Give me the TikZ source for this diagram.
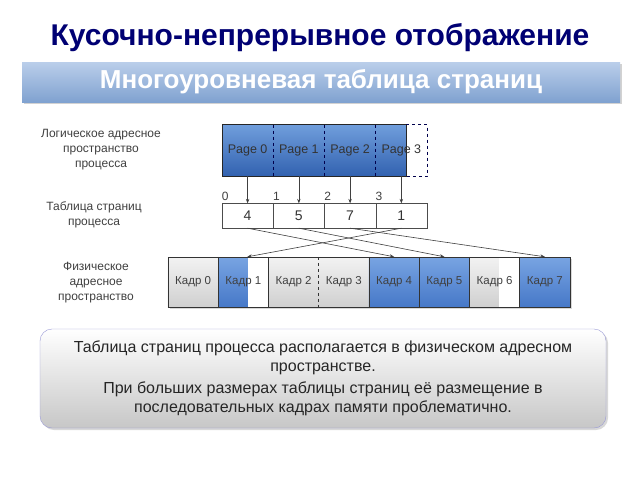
\documentclass[tikz,border=0pt]{standalone}
\usepackage{fontspec}
\setmainfont{Liberation Sans}
\usetikzlibrary{arrows.meta,shadows}
\begin{document}
\begin{tikzpicture}[x=1pt,y=-1pt,
    lbl/.style={font=\fontsize{12}{15}\selectfont,text=black!75,align=center},
    pagecell/.style={minimum width=51.25pt,minimum height=51.5pt,inner sep=0pt,font=\fontsize{12.5}{14}\selectfont,text=black!80},
    tabcell/.style={draw=black!70,minimum width=51.25pt,minimum height=24.5pt,inner sep=0pt,font=\fontsize{14}{16}\selectfont,text=black!80},
    kadr/.style={minimum width=50.25pt,minimum height=50pt,inner sep=0pt,font=\fontsize{11.5}{13}\selectfont,text=black!75},
    grey/.style={top color=gr1,bottom color=gr2},
    blu/.style={top color=bl1,bottom color=bl2},
    wpart/.style={path picture={\fill[white] ([xshift=30pt]path picture bounding box.south west) rectangle (path picture bounding box.north east);}},
    blw/.style={blu,wpart},
    grw/.style={grey,wpart},
    link/.style={draw=black!75,line width=0.6pt,-{Stealth[length=4.5pt,width=3.5pt]}}]
    % colores
    \colorlet{titl}{blue!45!black}
    \definecolor{ban1}{RGB}{186,206,234}
    \definecolor{ban2}{RGB}{128,162,208}
    \definecolor{pg1}{RGB}{112,158,220}
    \definecolor{pg2}{RGB}{50,98,176}
    \definecolor{bl1}{RGB}{120,164,226}
    \definecolor{bl2}{RGB}{70,120,200}
    \definecolor{gr1}{RGB}{242,242,242}
    \definecolor{gr2}{RGB}{208,208,208}
    \useasboundingbox[fill=white] (0,0) rectangle (640,480);

    % Titulo y banda
    \node[font=\bfseries\fontsize{30}{34}\selectfont,text=titl] (title) at (320,38) {Кусочно-непрерывное отображение};
    \node[minimum width=598pt,minimum height=40pt,top color=ban1,bottom color=ban2,
        drop shadow={opacity=0.35,shadow xshift=2pt,shadow yshift=-2pt},
        font=\bfseries\fontsize{26}{30}\selectfont,text=white] (band) at (321,82) {Многоуровневая таблица страниц};

    % Rotulos a la izquierda
    \node[lbl] (lblpages) at (101,150) {Логическое адресное\\пространство\\процесса};
    \node[lbl] (lbltable) at (94,214.5) {Таблица страниц\\процесса};
    \node[lbl] (lblframes) at (96,283) {Физическое\\адресное\\пространство};

    % Paginas logicas
    \shade[top color=pg1,bottom color=pg2,draw=black!85] (222,124.5) rectangle (406,176);
    \draw[dashed,thick,blue!30!black] (406,124.5) -- (427,124.5) -- (427,176) -- (406,176);
    \foreach \x in {273.25,324.5,375.75}
        \draw[dashed,thick,blue!30!black] (\x,124.5) -- (\x,176);
    \foreach \i in {0,...,3}
        \node[pagecell] (p\i) at (247.6+51.25*\i,150.25) {Page \i};

    % Tabla de paginas
    \foreach \i/\num in {0/4,1/5,2/7,3/1}
    {
        \node[tabcell] (t\i) at (247.6+51.25*\i,215.75) {\num};
        \node[anchor=south west,inner xsep=0pt,inner ysep=2.5pt,font=\fontsize{12}{14}\selectfont,text=black!75] (n\i) at (t\i.north west) {\i};
        \draw[link] (p\i.south) -- (t\i.north);
    }

    % Cuadros fisicos
    \path[fill=white,drop shadow={opacity=0.3,shadow xshift=1.5pt,shadow yshift=-1.5pt}] (168,257) rectangle (570,307);
    \foreach \i/\sty in {0/grey,1/blw,2/grey,3/grey,4/blu,5/blu,6/grw,7/blu}
        \node[kadr,\sty] (k\i) at (193.1+50.25*\i,282) {Кадр \i};
    \draw[black!80] (k0.north west) rectangle (k7.south east);
    \foreach \i in {1,2,4,5,6,7}
        \draw[black!80] (k\i.north west) -- (k\i.south west);
    \draw[black!80,dashed] (k3.north west) -- (k3.south west);

    % Flechas tabla -> cuadros
    \foreach \i/\k in {0/4,1/5,2/7}
        \draw[link] (t\i.south) -- (k\k.north);
    \draw[link] (t3.south) -- ([xshift=4pt]k1.north);

    % Nota
    \node[draw=black!40!blue!40,rounded corners=12pt,minimum width=566pt,minimum height=99pt,
        top color=white,bottom color=black!22,
        drop shadow={opacity=0.3,shadow xshift=2pt,shadow yshift=-2pt},
        align=center,font=\fontsize{16}{19}\selectfont,text=black!85] (note) at (323,378.5)
        {Таблица страниц процесса располагается в физическом адресном\\пространстве.\\[3pt]
         При больших размерах таблицы страниц её размещение в\\последовательных кадрах памяти проблематично.};
\end{tikzpicture}
\end{document}
